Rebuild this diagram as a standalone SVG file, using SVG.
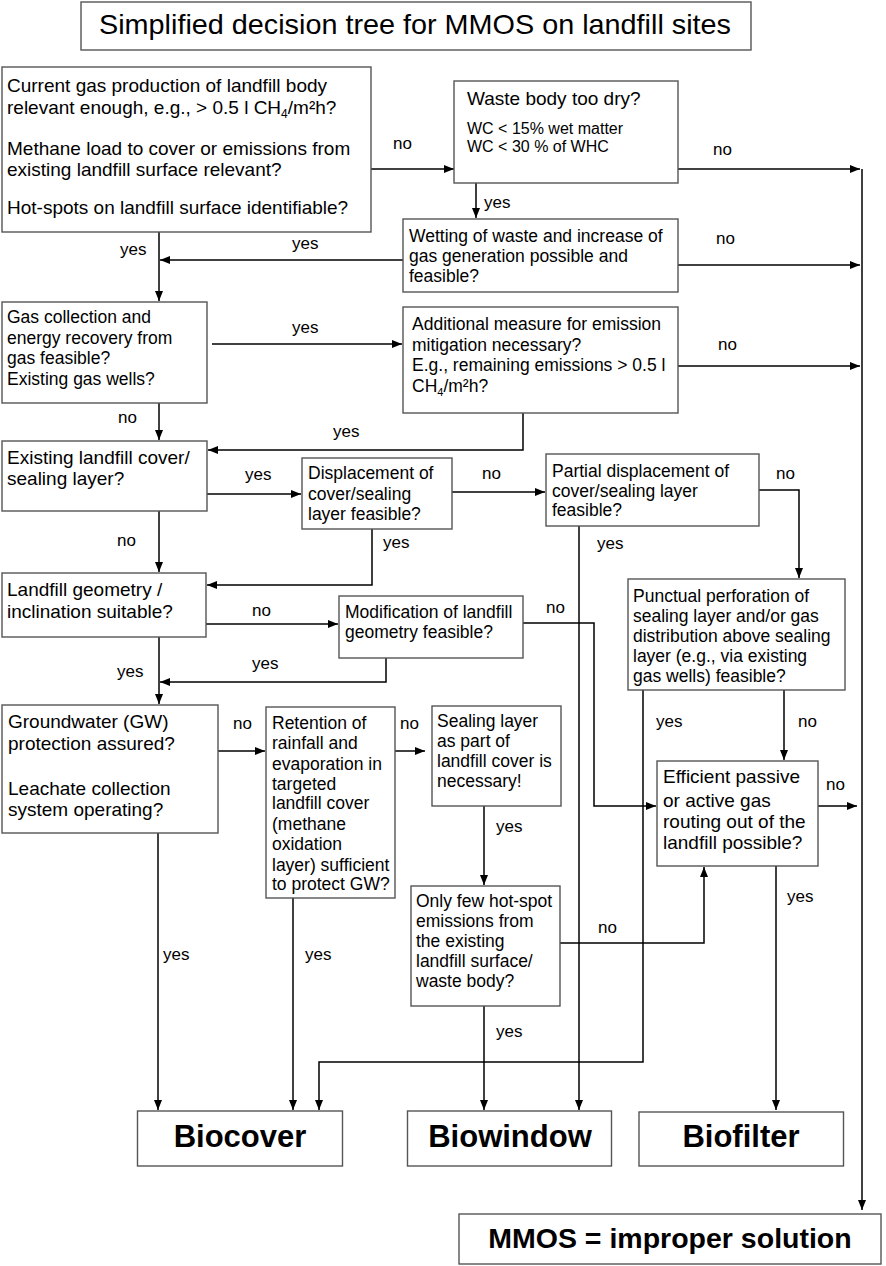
<svg xmlns="http://www.w3.org/2000/svg" width="886" height="1266" viewBox="0 0 886 1266">
<defs>
<marker id="ah" markerUnits="userSpaceOnUse" markerWidth="11" markerHeight="9" refX="10" refY="4" orient="auto">
<path d="M0,0 L10,4 L0,8 z" fill="#000"/>
</marker>
<style>
.box{fill:#fff;stroke:#555;stroke-width:1.4}
.t{font-family:"Liberation Sans",Arial,sans-serif;font-size:17.5px;fill:#000}
.L{font-size:19px}
.s{font-size:16px}
.lbl{font-family:"Liberation Sans",Arial,sans-serif;font-size:17px;fill:#000}
.b{font-family:"Liberation Sans",Arial,sans-serif;font-weight:bold;font-size:31px;fill:#000;text-anchor:middle}
.c{fill:none;stroke:#000;stroke-width:1.5}
.a{marker-end:url(#ah)}
</style>
</defs>
<rect width="886" height="1266" fill="#fff"/>

<g id="title">
<rect class="box" x="81" y="2" width="670" height="48"/>
<text class="t" x="99" y="34" style="font-size:28px" textLength="632" lengthAdjust="spacingAndGlyphs">Simplified decision tree for MMOS on landfill sites</text>
</g>

<g id="connectors">
<path class="c a" d="M371,169 H454"/>
<path class="c a" d="M678,169 H860"/>
<path class="c a" d="M862,169 V1210"/>
<path class="c a" d="M476,183 V218"/>
<path class="c a" d="M678,265 H860"/>
<path class="c a" d="M403,260 H160"/>
<path class="c a" d="M159,232 V301"/>
<path class="c a" d="M212,344 H402"/>
<path class="c a" d="M678,366 H860"/>
<path class="c a" d="M159,403 V440"/>
<path class="c a" d="M523,413 V450 H208"/>
<path class="c a" d="M207,494 H301"/>
<path class="c a" d="M452,492 H545"/>
<path class="c a" d="M372,529 V585 H207"/>
<path class="c a" d="M159,511 V572"/>
<path class="c a" d="M206,624 H338"/>
<path class="c a" d="M386,658 V682 H160"/>
<path class="c a" d="M159,637 V704"/>
<path class="c a" d="M759,490 H799 V578"/>
<path class="c a" d="M579,526 V1110"/>
<path class="c a" d="M523,623 H594 V806 H656"/>
<path class="c a" d="M643,690 V1062 H319 V1110"/>
<path class="c a" d="M784,690 V760"/>
<path class="c a" d="M818,806 H857"/>
<path class="c a" d="M776,866 V1110"/>
<path class="c a" d="M218,751 H265"/>
<path class="c a" d="M395,751 H425"/>
<path class="c a" d="M158,833 V1110"/>
<path class="c a" d="M293,898 V1110"/>
<path class="c a" d="M484,806 V885"/>
<path class="c a" d="M560,943 H704 V867"/>
<path class="c a" d="M484,1006 V1110"/>
<text class="lbl" x="393" y="149">no</text>
<text class="lbl" x="713" y="155">no</text>
<text class="lbl" x="484" y="208">yes</text>
<text class="lbl" x="716" y="244">no</text>
<text class="lbl" x="292" y="249">yes</text>
<text class="lbl" x="120" y="255">yes</text>
<text class="lbl" x="292" y="333">yes</text>
<text class="lbl" x="718" y="350">no</text>
<text class="lbl" x="118" y="423">no</text>
<text class="lbl" x="333" y="437">yes</text>
<text class="lbl" x="245" y="480">yes</text>
<text class="lbl" x="482" y="479">no</text>
<text class="lbl" x="383" y="548">yes</text>
<text class="lbl" x="117" y="546">no</text>
<text class="lbl" x="252" y="616">no</text>
<text class="lbl" x="252" y="669">yes</text>
<text class="lbl" x="117" y="677">yes</text>
<text class="lbl" x="776" y="479">no</text>
<text class="lbl" x="597" y="549">yes</text>
<text class="lbl" x="546" y="613">no</text>
<text class="lbl" x="656" y="727">yes</text>
<text class="lbl" x="798" y="727">no</text>
<text class="lbl" x="826" y="790">no</text>
<text class="lbl" x="787" y="902">yes</text>
<text class="lbl" x="233" y="729">no</text>
<text class="lbl" x="400" y="729">no</text>
<text class="lbl" x="163" y="960">yes</text>
<text class="lbl" x="305" y="960">yes</text>
<text class="lbl" x="496" y="832">yes</text>
<text class="lbl" x="598" y="933">no</text>
<text class="lbl" x="496" y="1037">yes</text>
</g>

<g id="n1">
<rect class="box" x="2" y="67" width="369" height="165"/>
<text class="t L" x="7" y="92">Current gas production of landfill body</text>
<text class="t L" x="7" y="114">relevant enough, e.g., &gt; 0.5 l CH<tspan font-size="12" dy="4">4</tspan><tspan dy="-4">/m²h?</tspan></text>
<text class="t L" x="7" y="155">Methane load to cover or emissions from</text>
<text class="t L" x="7" y="176">existing landfill surface relevant?</text>
<text class="t L" x="7" y="214">Hot-spots on landfill surface identifiable?</text>
</g>

<g id="n2">
<rect class="box" x="454" y="81" width="224" height="102"/>
<text class="t L" x="467" y="105">Waste body too dry?</text>
<text class="t s" x="467" y="134">WC &lt; 15% wet matter</text>
<text class="t s" x="467" y="152">WC &lt; 30 % of WHC</text>
</g>

<g id="n3">
<rect class="box" x="403" y="219" width="275" height="73"/>
<text class="t" x="409" y="242">Wetting of waste and increase of</text>
<text class="t" x="409" y="262">gas generation possible and</text>
<text class="t" x="409" y="282">feasible?</text>
</g>

<g id="n4">
<rect class="box" x="2" y="302" width="205" height="101"/>
<text class="t" x="7" y="323">Gas collection and</text>
<text class="t" x="7" y="344">energy recovery from</text>
<text class="t" x="7" y="364">gas feasible?</text>
<text class="t" x="7" y="385">Existing gas wells?</text>
</g>

<g id="n5">
<rect class="box" x="403" y="307" width="275" height="106"/>
<text class="t" x="412" y="330">Additional measure for emission</text>
<text class="t" x="412" y="351">mitigation necessary?</text>
<text class="t" x="412" y="371">E.g., remaining emissions &gt; 0.5 l</text>
<text class="t" x="412" y="392">CH<tspan font-size="11" dy="4">4</tspan><tspan dy="-4">/m²h?</tspan></text>
</g>

<g id="n6">
<rect class="box" x="2" y="441" width="205" height="70"/>
<text class="t L" x="7" y="464">Existing landfill cover/</text>
<text class="t L" x="7" y="485">sealing layer?</text>
</g>

<g id="n7">
<rect class="box" x="302" y="458" width="150" height="71"/>
<text class="t" x="308" y="479">Displacement of</text>
<text class="t" x="308" y="500">cover/sealing</text>
<text class="t" x="308" y="520">layer feasible?</text>
</g>

<g id="n8">
<rect class="box" x="2" y="573" width="204" height="64"/>
<text class="t L" x="7" y="596">Landfill geometry /</text>
<text class="t L" x="7" y="618">inclination suitable?</text>
</g>

<g id="n9">
<rect class="box" x="339" y="596" width="184" height="62"/>
<text class="t" x="345" y="618">Modification of landfill</text>
<text class="t" x="345" y="638">geometry feasible?</text>
</g>

<g id="n10">
<rect class="box" x="2" y="705" width="216" height="128"/>
<text class="t L" x="8" y="728">Groundwater (GW)</text>
<text class="t L" x="8" y="750">protection assured?</text>
<text class="t L" x="8" y="795">Leachate collection</text>
<text class="t L" x="8" y="816">system operating?</text>
</g>

<g id="n11">
<rect class="box" x="546" y="454" width="213" height="72"/>
<text class="t" x="552" y="477">Partial displacement of</text>
<text class="t" x="552" y="497">cover/sealing layer</text>
<text class="t" x="552" y="516">feasible?</text>
</g>

<g id="n12">
<rect class="box" x="628" y="579" width="217" height="111"/>
<text class="t" x="633" y="602">Punctual perforation of</text>
<text class="t" x="633" y="622">sealing layer and/or gas</text>
<text class="t" x="633" y="642">distribution above sealing</text>
<text class="t" x="633" y="662">layer (e.g., via existing</text>
<text class="t" x="633" y="682">gas wells) feasible?</text>
</g>

<g id="n13">
<rect class="box" x="657" y="761" width="161" height="105"/>
<text class="t L" x="663" y="783">Efficient passive</text>
<text class="t L" x="663" y="807">or active gas</text>
<text class="t L" x="663" y="828">routing out of the</text>
<text class="t L" x="663" y="849">landfill possible?</text>
</g>

<g id="n14">
<rect class="box" x="266" y="707" width="129" height="191"/>
<text class="t" x="272" y="729">Retention of</text>
<text class="t" x="272" y="749">rainfall and</text>
<text class="t" x="272" y="770">evaporation in</text>
<text class="t" x="272" y="790">targeted</text>
<text class="t" x="272" y="809">landfill cover</text>
<text class="t" x="272" y="830">(methane</text>
<text class="t" x="272" y="850">oxidation</text>
<text class="t" x="272" y="871">layer) sufficient</text>
<text class="t" x="272" y="890">to protect GW?</text>
</g>

<g id="n15">
<rect class="box" x="432" y="706" width="129" height="100"/>
<text class="t" x="437" y="727">Sealing layer</text>
<text class="t" x="437" y="747">as part of</text>
<text class="t" x="437" y="767">landfill cover is</text>
<text class="t" x="437" y="787">necessary!</text>
</g>

<g id="n16">
<rect class="box" x="411" y="886" width="149" height="120"/>
<text class="t" x="416" y="907">Only few hot-spot</text>
<text class="t" x="416" y="927">emissions from</text>
<text class="t" x="416" y="947">the existing</text>
<text class="t" x="416" y="967">landfill surface/</text>
<text class="t" x="416" y="987">waste body?</text>
</g>

<g id="biocover">
<rect class="box" x="137.5" y="1111" width="205" height="55"/>
<text class="b" x="240" y="1147">Biocover</text>
</g>
<g id="biowindow">
<rect class="box" x="407.5" y="1111" width="204" height="55"/>
<text class="b" x="510" y="1147">Biowindow</text>
</g>
<g id="biofilter">
<rect class="box" x="639" y="1112" width="204.5" height="54"/>
<text class="b" x="741" y="1147">Biofilter</text>
</g>
<g id="mmos">
<rect class="box" x="459" y="1214" width="422" height="50"/>
<text class="b" x="670" y="1248" style="font-size:28.5px">MMOS = improper solution</text>
</g>
</svg>
